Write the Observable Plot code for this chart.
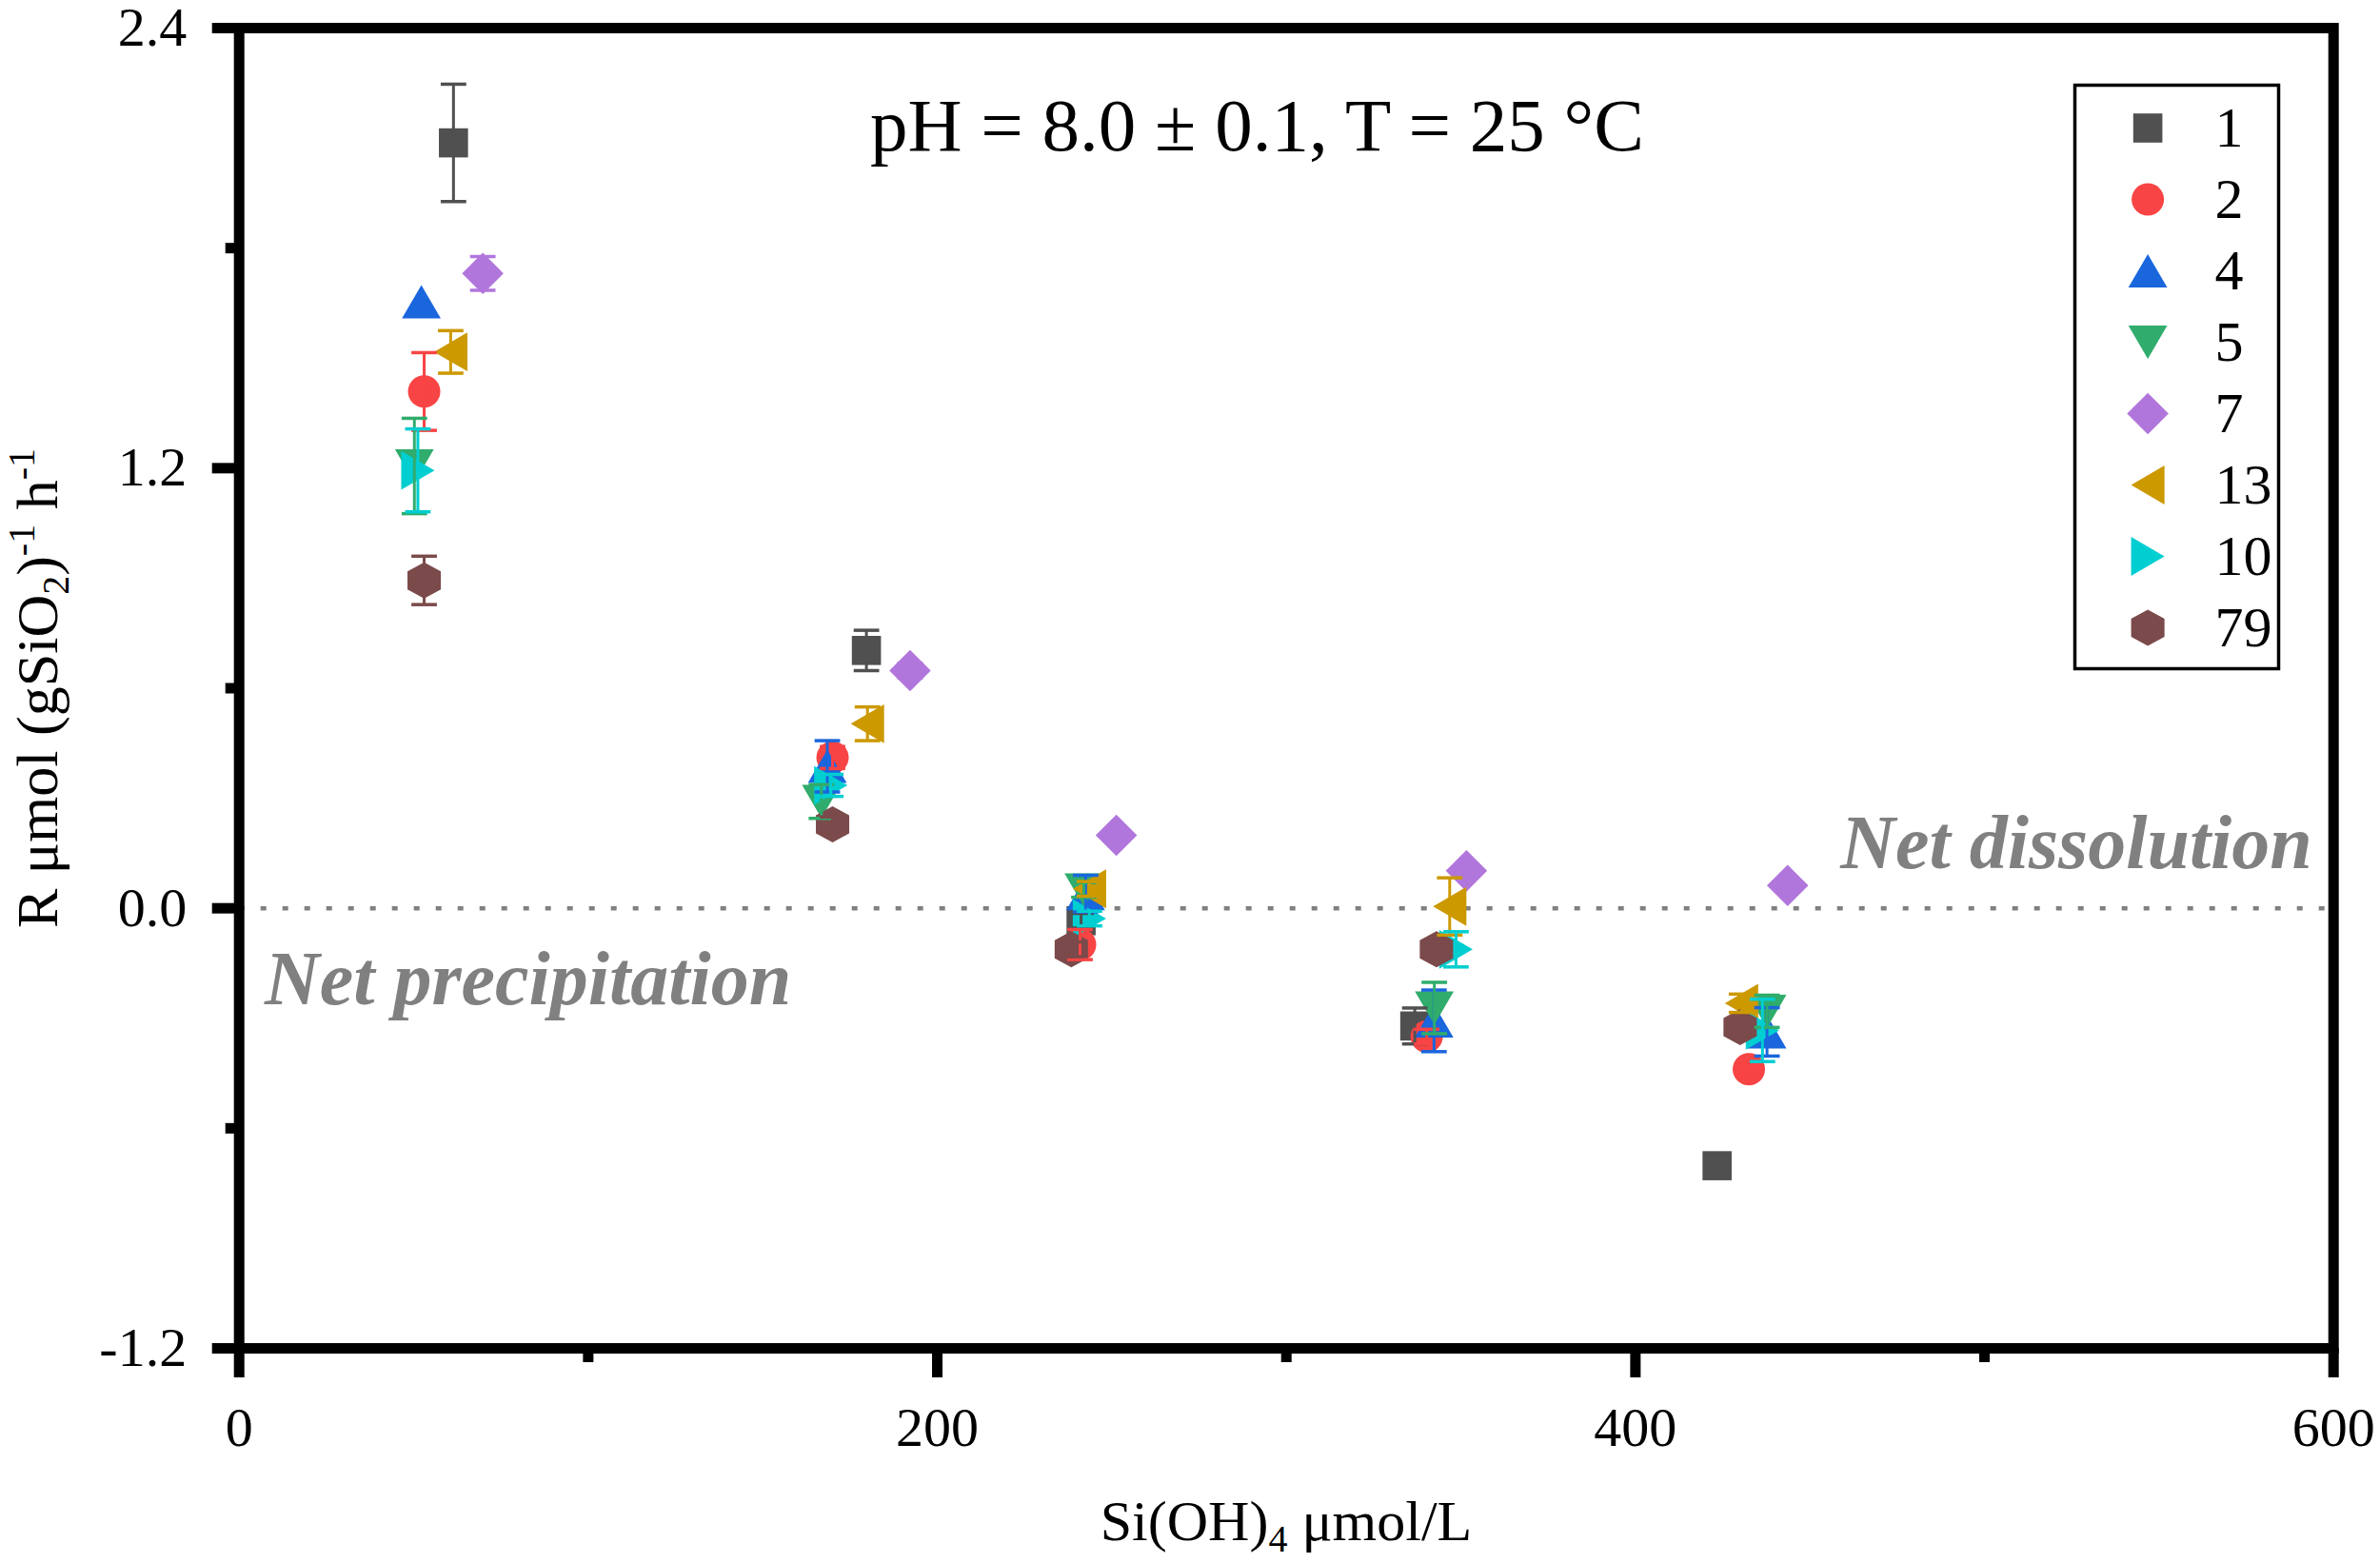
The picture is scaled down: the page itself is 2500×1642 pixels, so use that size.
<!DOCTYPE html>
<html>
<head>
<meta charset="utf-8">
<script src="https://cdn.jsdelivr.net/npm/d3@7"></script>
<script src="https://cdn.jsdelivr.net/npm/@observablehq/plot@0.6"></script>
<style>
html, body { margin: 0; padding: 0; background: #fff; }
#wrap { position: relative; width: 2500px; height: 1642px; overflow: hidden; }
#legend { position: absolute; left: 2179px; top: 89px; }
</style>
</head>
<body>
<div id="wrap"><div id="chart"></div><div id="legend"></div></div>
<script>
// ---------- data ----------
const seriesNames = ["1", "2", "4", "5", "7", "13", "10", "79"];
const seriesColors = ["#505050", "#F84444", "#1A66DD", "#30AC6C", "#B176DC", "#CC9900", "#00CED1", "#7B4A4A"];

const si_1 = [61.4, 179.7, 241.2, 336.8, 423.4];
const rate_1 = [2.087, 0.703, -0.034, -0.321, -0.702];
const err_1 = [0.16, 0.055, 0.02, 0.049, 0.01];

const si_2 = [53.0, 170.0, 240.9, 340.2, 432.5];
const rate_2 = [1.409, 0.411, -0.099, -0.35, -0.439];
const err_2 = [0.106, 0.03, 0.041, 0.02, 0.02];

const si_4 = [52.2, 168.5, 242.5, 342.3, 437.7];
const rate_4 = [1.654, 0.387, 0.04, -0.307, -0.337];
const err_4 = [0.0, 0.07, 0.05, 0.084, 0.066];

const si_5 = [50.2, 166.8, 242.0, 342.4, 437.7];
const rate_5 = [1.206, 0.291, 0.05, -0.272, -0.281];
const err_5 = [0.13, 0.046, 0.02, 0.07, 0.044];

const si_7 = [69.8, 192.2, 251.3, 351.6, 443.6];
const rate_7 = [1.731, 0.648, 0.199, 0.102, 0.062];
const err_7 = [0.046, 0.02, 0.01, 0.01, 0.01];

const si_13 = [60.6, 180.0, 243.6, 346.8, 430.4];
const rate_13 = [1.517, 0.503, 0.053, 0.005, -0.259];
const err_13 = [0.058, 0.046, 0.02, 0.078, 0.025];

const si_10 = [51.2, 169.5, 243.6, 348.6, 436.4];
const rate_10 = [1.194, 0.335, -0.028, -0.112, -0.333];
const err_10 = [0.113, 0.03, 0.02, 0.048, 0.085];

const si_79 = [53.0, 170.0, 238.4, 343.0, 430.0];
const rate_79 = [0.894, 0.229, -0.112, -0.112, -0.324];
const err_79 = [0.066, 0.02, 0.02, 0.02, 0.02];

const xMajorTicks = [0, 200, 400, 600];
const xMinorTicks = [100, 300, 500];
const yMajorTicks = [-1.2, 0.0, 1.2, 2.4];
const yMinorTicks = [-0.6, 0.6, 1.8];

const titleText = "pH = 8.0 ± 0.1, T = 25 °C";
const precipText = "Net precipitation";
const dissolText = "Net dissolution";

// ---------- build tables ----------
const siAll = [si_1, si_2, si_4, si_5, si_7, si_13, si_10, si_79];
const rateAll = [rate_1, rate_2, rate_4, rate_5, rate_7, rate_13, rate_10, rate_79];
const errAll = [err_1, err_2, err_4, err_5, err_7, err_13, err_10, err_79];
const tables = seriesNames.map((name, i) =>
  siAll[i].map((x, j) => ({series: name, x, y: rateAll[i][j], e: errAll[i][j]})));

// ---------- symbols ----------
function poly(pts) {
  return {draw(ctx, size) {
    const s = Math.sqrt(size / Math.PI);
    ctx.moveTo(pts[0][0] * s, pts[0][1] * s);
    for (let k = 1; k < pts.length; ++k) ctx.lineTo(pts[k][0] * s, pts[k][1] * s);
    ctx.closePath();
  }};
}
const symSquare = poly([[-0.9, -0.9], [0.9, -0.9], [0.9, 0.9], [-0.9, 0.9]]);
const symCircle = {draw(ctx, size) { const s = Math.sqrt(size / Math.PI); ctx.moveTo(s, 0); ctx.arc(0, 0, s, 0, 2 * Math.PI); ctx.closePath(); }};
const symUp = poly([[0, -1.03], [1.2, 1.03], [-1.2, 1.03]]);
const symDown = poly([[0, 1.03], [1.2, -1.03], [-1.2, -1.03]]);
const symLeft = poly([[-1.03, 0], [1.03, -1.2], [1.03, 1.2]]);
const symRight = poly([[1.03, 0], [-1.03, -1.2], [-1.03, 1.2]]);
const symDiamond = poly([[0, -1.28], [1.28, 0], [0, 1.28], [-1.28, 0]]);
const symHex = poly([[0, -1.12], [1.03, -0.56], [1.03, 0.56], [0, 1.12], [-1.03, 0.56], [-1.03, -0.56]]);
const symCap = {draw(ctx, size) { const s = Math.sqrt(size / Math.PI); ctx.moveTo(-s, 0); ctx.lineTo(s, 0); }};
const seriesSymbols = [symSquare, symCircle, symUp, symDown, symDiamond, symLeft, symRight, symHex];

const FONT = "'Liberation Serif', 'Times New Roman', serif";

// ---------- main chart ----------
const marks = [];
marks.push(Plot.ruleY([0], {stroke: "#808080", strokeWidth: 4.5, strokeDasharray: "6,17"}));
tables.forEach((t, i) => {
  marks.push(Plot.dot(t, {x: "x", y: "y", r: 17, symbol: seriesSymbols[i], fill: seriesColors[i], stroke: "none"}));
});
tables.forEach((t, i) => {
  const te = t.filter(d => d.e > 0);
  marks.push(Plot.ruleX(te, {x: "x", y1: d => d.y - d.e, y2: d => d.y + d.e, stroke: seriesColors[i], strokeWidth: 3}));
  marks.push(Plot.dot(te, {x: "x", y: d => d.y + d.e, r: 13.4, symbol: symCap, stroke: seriesColors[i], strokeWidth: 3.5, fill: "none"}));
  marks.push(Plot.dot(te, {x: "x", y: d => d.y - d.e, r: 13.4, symbol: symCap, stroke: seriesColors[i], strokeWidth: 3.5, fill: "none"}));
});
marks.push(Plot.text([{t: titleText, x: 291.6, y: 2.067}], {x: "x", y: "y", text: "t", textAnchor: "middle", lineAnchor: "bottom", fontSize: 79, fill: "black"}));
marks.push(Plot.text([{t: precipText, x: 7.3, y: -0.263}], {x: "x", y: "y", text: "t", textAnchor: "start", lineAnchor: "bottom", fontSize: 80, fontWeight: "bold", fontStyle: "italic", fill: "#808080"}));
marks.push(Plot.text([{t: dissolText, x: 593.9, y: 0.109}], {x: "x", y: "y", text: "t", textAnchor: "end", lineAnchor: "bottom", fontSize: 80, fontWeight: "bold", fontStyle: "italic", fill: "#808080"}));
marks.push(Plot.frame({stroke: "black", strokeWidth: 11}));
marks.push(Plot.axisY({ticks: yMajorTicks, tickSize: 28, tickPadding: 27, tickFormat: d => d.toFixed(1), fontSize: 58, strokeWidth: 11, label: null, fill: "black", stroke: "black"}));
marks.push(Plot.axisY({ticks: yMinorTicks, tickSize: 14, tickFormat: () => "", strokeWidth: 11, label: null, stroke: "black"}));
marks.push(Plot.axisX({ticks: xMajorTicks, tickSize: 31, tickPadding: 30, tickFormat: d => String(d), fontSize: 58, strokeWidth: 11, label: null, fill: "black", stroke: "black"}));
marks.push(Plot.axisX({ticks: xMinorTicks, tickSize: 15, tickFormat: () => "", strokeWidth: 11, label: null, stroke: "black"}));

const chart = Plot.plot({
  width: 2500,
  height: 1642,
  marginLeft: 250.7,
  marginRight: 49.3,
  marginTop: 29,
  marginBottom: 226,
  style: {fontFamily: FONT, background: "white", color: "black", overflow: "visible"},
  x: {domain: [0, 600], label: null},
  y: {domain: [-1.2, 2.4], label: null},
  marks
});
document.getElementById("chart").appendChild(chart);

// axis titles with sub/superscripts
const svg = d3.select(chart);
const yl = svg.append("text")
  .attr("transform", "translate(60,723) rotate(-90)")
  .attr("text-anchor", "middle")
  .attr("font-family", FONT)
  .attr("font-size", 62)
  .attr("fill", "black");
yl.append("tspan").text("R μmol (gSiO");
yl.append("tspan").attr("font-size", 40).attr("dy", 12).text("2");
yl.append("tspan").attr("dy", -12).text(")");
yl.append("tspan").attr("font-size", 40).attr("dy", -24).text("-1");
yl.append("tspan").attr("dy", 24).text(" h");
yl.append("tspan").attr("font-size", 40).attr("dy", -24).text("-1");

const xl = svg.append("text")
  .attr("x", 1351).attr("y", 1618)
  .attr("text-anchor", "middle")
  .attr("font-family", FONT)
  .attr("font-size", 60)
  .attr("fill", "black");
xl.append("tspan").text("Si(OH)");
xl.append("tspan").attr("font-size", 40).attr("dy", 12).text("4");
xl.append("tspan").attr("dy", -12).text(" μmol/L");

// ---------- legend ----------
const legendMarks = [];
seriesNames.forEach((name, i) => {
  legendMarks.push(Plot.dot([name], {y: d => d, frameAnchor: "left", dx: 76.6, r: 17, symbol: seriesSymbols[i], fill: seriesColors[i], stroke: "none"}));
});
legendMarks.push(Plot.text(seriesNames, {y: d => d, text: d => d, frameAnchor: "left", dx: 147, textAnchor: "start", lineAnchor: "middle", fontSize: 60, fill: "black"}));
legendMarks.push(Plot.frame({stroke: "black", strokeWidth: 3.5}));
const legend = Plot.plot({
  width: 214,
  height: 613,
  margin: 0,
  style: {fontFamily: FONT, background: "white", color: "black", overflow: "visible"},
  y: {type: "point", domain: seriesNames, range: [43, 571], padding: 0, axis: null},
  marks: legendMarks
});
document.getElementById("legend").appendChild(legend);
</script>
</body>
</html>
